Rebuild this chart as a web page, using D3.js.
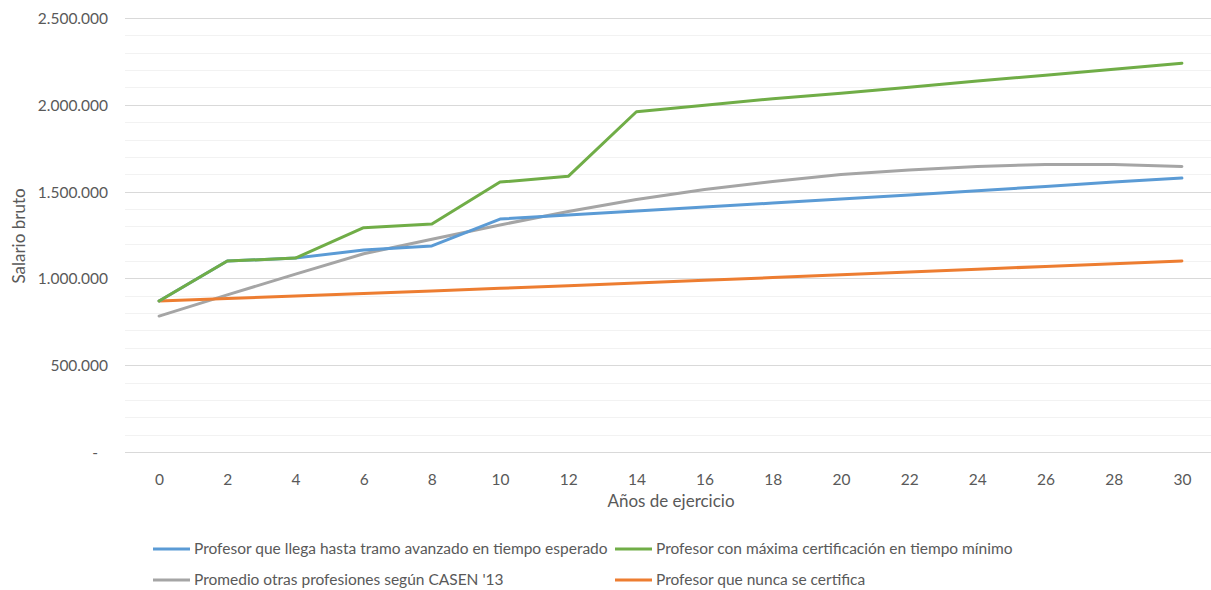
<!DOCTYPE html>
<html><head><meta charset="utf-8">
<script src="https://cdn.jsdelivr.net/npm/d3@7"></script>
<style>body{margin:0;background:#fff}svg{display:block}text{font-family:Lato,"Open Sans",sans-serif;fill:#595959}</style>
</head><body>
<svg id="c" width="1211" height="590"></svg>
<script>
const years = [0,2,4,6,8,10,12,14,16,18,20,22,24,26,28,30];
const blueVals = [870000,1100000,1117000,1164000,1187000,1342000,1365000,1388000,1411000,1434000,1457000,1480000,1505000,1530000,1555000,1578000];
const greenVals = [870000,1100000,1117000,1292000,1313000,1555000,1588000,1960000,1998000,2035000,2066000,2101000,2137000,2170000,2205000,2240000];
const grayVals = [783000,905000,1025000,1142000,1225000,1308000,1385000,1455000,1512000,1558000,1598000,1624000,1645000,1656000,1656000,1645000];
const orangeVals = [870000,884000,898000,913000,928000,943000,958000,973000,989000,1005000,1021000,1037000,1053000,1069000,1085000,1100000];
const yTicks = [0,500000,1000000,1500000,2000000,2500000];
const seriesNames = ["Profesor que llega hasta tramo avanzado en tiempo esperado","Profesor con máxima certificación en tiempo mínimo","Promedio otras profesiones según CASEN '13","Profesor que nunca se certifica"];
const colors = ["#5B9BD5","#70AD47","#A5A5A5","#ED7D31"];

(function(){
const svg = d3.select("#c");
const pl = 125, pr = 1216, pt = 18, pb = 452;
const x = d3.scalePoint().domain(years).range([pl, pr]).padding(0.5);
const y = d3.scaleLinear().domain([0,2500000]).range([pb, pt]);

const minor = d3.range(100000, 2500001, 100000).filter(v => v % 500000 !== 0);
svg.append("g").selectAll("line").data(minor).join("line")
  .attr("x1", pl).attr("x2", pr).attr("y1", d=>Math.round(y(d))+0.5).attr("y2", d=>Math.round(y(d))+0.5)
  .attr("stroke","#f2f2f2").attr("stroke-width",1);
svg.append("g").selectAll("line").data(yTicks).join("line")
  .attr("x1", pl).attr("x2", pr).attr("y1", d=>Math.round(y(d))+0.5).attr("y2", d=>Math.round(y(d))+0.5)
  .attr("stroke","#d9d9d9").attr("stroke-width",1);

const fmt = v => v === 0 ? "-" : d3.format(",")(v).replace(/,/g,".");
const yAxis = d3.axisLeft(y).tickValues(yTicks).tickFormat(fmt).tickSize(0).tickPadding(0);
const ga = svg.append("g").attr("transform",`translate(108,0)`).call(yAxis);
ga.select(".domain").remove();
ga.selectAll("text").attr("font-size",15.5).style("font-family","Lato").style("fill","#595959").attr("dy","0.35em")
  .attr("dx", d => d === 0 ? -10 : 0);

const xAxis = d3.axisBottom(x).tickSize(0).tickPadding(0);
const gx = svg.append("g").attr("transform",`translate(0,${pb})`).call(xAxis);
gx.select(".domain").remove();
gx.selectAll("text").attr("font-size",15.5).style("font-family","Lato").style("fill","#595959").attr("y",22);

svg.append("text").attr("x",671).attr("y",507).attr("text-anchor","middle").attr("font-size",17).text("Años de ejercicio");
svg.append("text").attr("transform","translate(25,236) rotate(-90)").attr("text-anchor","middle").attr("font-size",17).text("Salario bruto");

const all = [blueVals, greenVals, grayVals, orangeVals];
const line = d3.line().x((d,i)=>x(years[i])).y(d=>y(d));
[2,3,0,1].forEach(k => {
  svg.append("path").attr("d", line(all[k])).attr("fill","none")
    .attr("stroke", colors[k]).attr("stroke-width",3).attr("stroke-linejoin","round").attr("stroke-linecap","round");
});

const legPos = [[153,549],[615,549],[153,580],[615,580]];
seriesNames.forEach((n,i) => {
  const [lx,ly] = legPos[i];
  svg.append("line").attr("x1",lx).attr("x2",lx+37).attr("y1",ly).attr("y2",ly)
    .attr("stroke",colors[i]).attr("stroke-width",3);
  svg.append("text").attr("x",lx+41).attr("y",ly).attr("dy","0.35em").attr("font-size",15.5).text(n);
});
})();
</script>
</body></html>
